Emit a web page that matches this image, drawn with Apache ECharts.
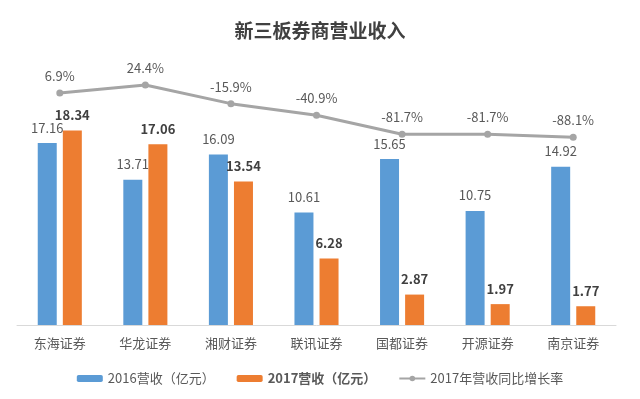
<!DOCTYPE html>
<html>
<head>
<meta charset="utf-8">
<script src="https://cdn.jsdelivr.net/npm/echarts@6/dist/echarts.min.js"></script>
<style>
  html, body { margin: 0; padding: 0; background: #fff; }
  #main { width: 640px; height: 399px; }
</style>
</head>
<body>
<div id="main"></div>
<script type="text/javascript">
// 数据
var categories = ['东海证券', '华龙证券', '湘财证券', '联讯证券', '国都证券', '开源证券', '南京证券'];
var rev2016 = [17.16, 13.71, 16.09, 10.61, 15.65, 10.75, 14.92];
var rev2017 = [18.34, 17.06, 13.54, 6.28, 2.87, 1.97, 1.77];
var growth = [6.9, 24.4, -15.9, -40.9, -81.7, -81.7, -88.1];

var chart = echarts.init(document.getElementById('main'));
var font = '"Microsoft YaHei", "Noto Sans CJK SC", sans-serif';
var option = {
    backgroundColor: '#fff',
    title: {
        text: '新三板券商营业收入',
        left: 'center',
        top: 16,
        textStyle: { fontSize: 19, fontWeight: 'bold', color: '#404040', fontFamily: font }
    },
    legend: {
        bottom: 9,
        left: 'center',
        itemGap: 22,
        itemWidth: 26,
        itemHeight: 7,
        textStyle: { fontSize: 13, color: '#595959', fontFamily: font },
        data: [
            { name: '2016营收（亿元）' },
            { name: '2017营收（亿元）', textStyle: { fontWeight: 'bold' } },
            { name: '2017年营收同比增长率' }
        ]
    },
    grid: { left: 17, right: 24, top: 60, bottom: 74 },
    xAxis: {
        type: 'category',
        data: categories,
        axisLine: { lineStyle: { color: '#d9d9d9' } },
        axisTick: { show: false },
        axisLabel: { fontSize: 13, color: '#595959', margin: 12, fontFamily: font }
    },
    yAxis: [
        { type: 'value', min: 0, max: 25, show: false },
        { type: 'value', min: -492, max: 78, show: false }
    ],
    series: [
        {
            name: '2016营收（亿元）',
            type: 'bar',
            data: rev2016,
            barWidth: 19,
            barGap: '32%',
            itemStyle: { color: '#5b9bd5' },
            label: { show: true, position: 'top', fontSize: 13, color: '#595959', distance: 9, fontFamily: font }
        },
        {
            name: '2017营收（亿元）',
            type: 'bar',
            data: rev2017,
            barWidth: 19,
            itemStyle: { color: '#ed7d31' },
            label: { show: true, position: 'top', fontSize: 13, fontWeight: 'bold', color: '#404040', distance: 9, fontFamily: font }
        },
        {
            name: '2017年营收同比增长率',
            type: 'line',
            yAxisIndex: 1,
            data: growth,
            symbol: 'circle',
            symbolSize: 7,
            lineStyle: { color: '#a5a5a5', width: 3 },
            itemStyle: { color: '#a5a5a5' },
            label: {
                show: true, position: 'top', distance: 7, fontSize: 13, color: '#595959', fontFamily: font,
                formatter: function (p) { return p.value + '%'; }
            }
        }
    ]
};
chart.setOption(option);
</script>
</body>
</html>
